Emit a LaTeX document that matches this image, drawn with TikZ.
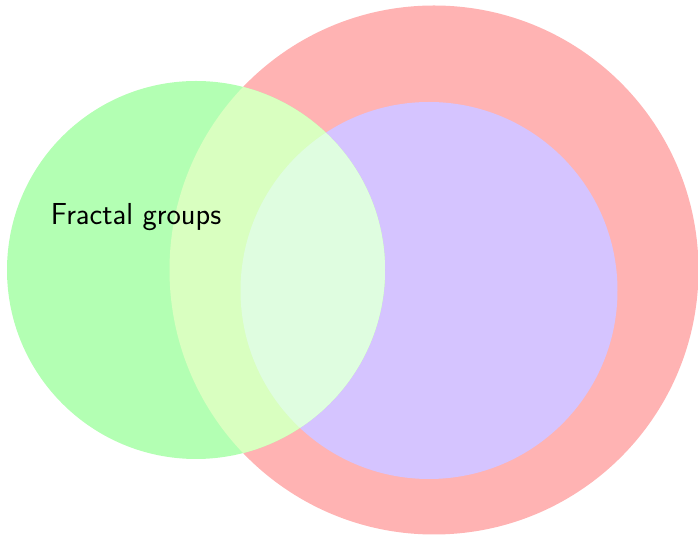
\documentclass[tikz,border=0pt]{standalone}
\usepackage{xcolor}
\usepackage{tikz}

\definecolor{ringred}{HTML}{FFB3B3}
\definecolor{discblue}{HTML}{D5C4FF}
\definecolor{discgreen}{HTML}{B3FFB3}
\definecolor{greenred}{HTML}{D9FFC0}
\definecolor{greenblue}{HTML}{DFFDE0}

\tikzset{
    region/.style={fill=#1, draw=none},
    setlabel/.style={font=\sffamily\LARGE, text=black}
}

\begin{document}
\begin{tikzpicture}[x=0.02cm, y=-0.02cm]
        \useasboundingbox (0,0) rectangle (698,536);

        % --- the three sets ---
        \coordinate (redc)   at (434,270);
        \coordinate (bluec)  at (429,290.5);
        \coordinate (greenc) at (196,270);

        \fill[region=ringred]   (redc)   circle (264.5);
        \fill[region=discblue]  (bluec)  circle (188.5);
        \fill[region=discgreen] (greenc) circle (189);

        % --- overlaps ---
        \begin{scope}
            \clip (greenc) circle (189);
            \fill[region=greenred]  (redc)  circle (264.5);
            \fill[region=greenblue] (bluec) circle (188.5);
        \end{scope}

        \node[setlabel] (fractal) at (136,217) {Fractal groups};
    \end{tikzpicture}
\end{document}
